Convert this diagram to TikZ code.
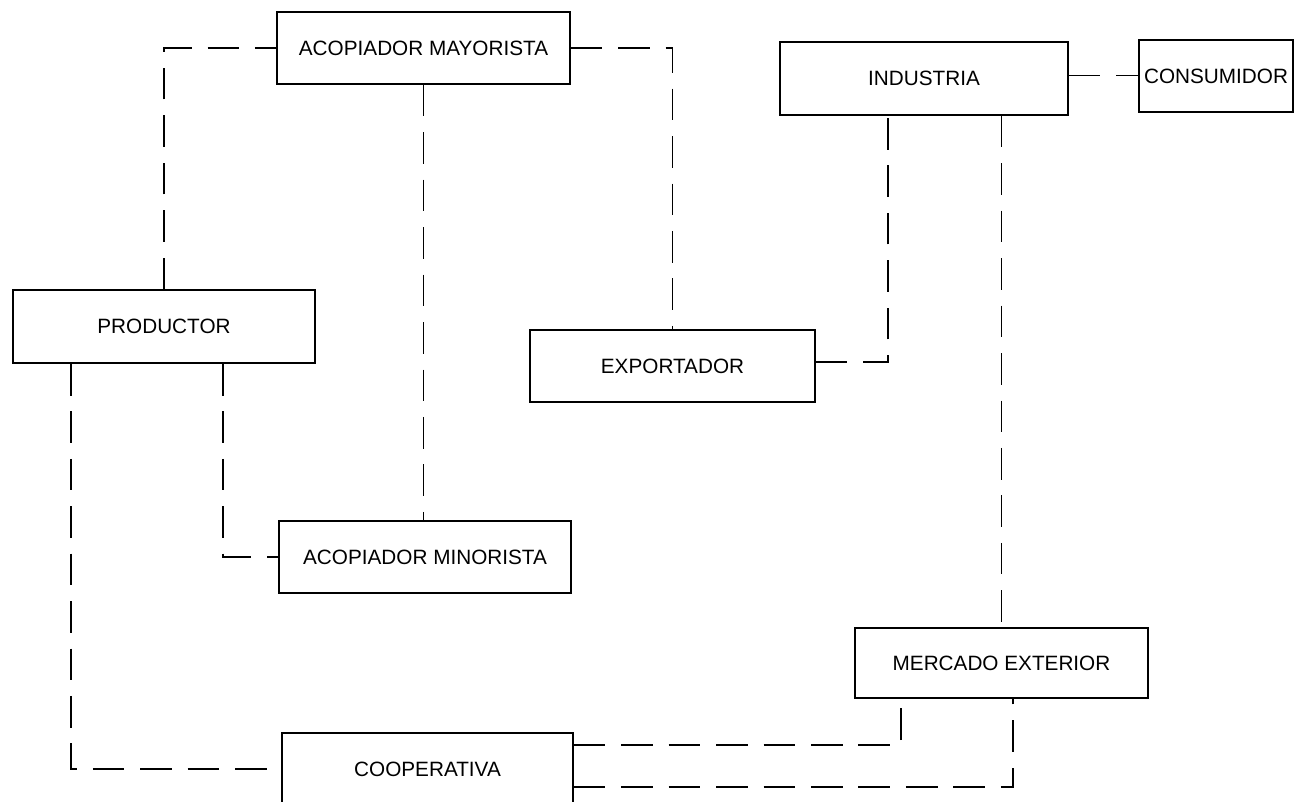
\documentclass[tikz,border=0pt]{standalone}
\usepackage{fontspec}
\setmainfont{Liberation Sans}
\usepackage{tikz}

\begin{document}
\begin{tikzpicture}[x=0.02cm, y=-0.02cm,
    caja/.style={draw, line width=1pt, font=\fontsize{11.8}{14}\selectfont,
      inner sep=0pt, minimum height=1.44cm},
    enlace/.style={line width=1pt, dash pattern=on 18pt off 9pt}]

  \useasboundingbox (0, 0) rectangle (1294, 801);

  \node[caja, minimum width=5.86cm] (mayorista) at (423.5, 48) {ACOPIADOR MAYORISTA};
  \node[caja, minimum width=5.76cm, minimum height=1.46cm] (industria) at (924, 78.5) {INDUSTRIA};
  \node[caja, minimum width=3.08cm] (consumidor) at (1216, 76) {CONSUMIDOR};
  \node[caja, minimum width=6.04cm, minimum height=1.46cm] (productor) at (164, 326.5) {PRODUCTOR};
  \node[caja, minimum width=5.70cm] (exportador) at (672.5, 366) {EXPORTADOR};
  \node[caja, minimum width=5.84cm] (minorista) at (425, 557) {ACOPIADOR MINORISTA};
  \node[caja, minimum width=5.86cm, minimum height=1.40cm] (mercado) at (1001.5, 663) {MERCADO EXTERIOR};
  \node[caja, minimum width=5.82cm] (cooperativa) at (427.5, 769) {COOPERATIVA};

  \draw[enlace] (productor.north) |- (mayorista.west);
  \draw[enlace] (mayorista.east) -| (exportador.north);
  \draw[enlace] (mayorista.south) -- (mayorista.south |- minorista.north);
  \draw[enlace] ([xshift=1.18cm]productor.south) |- (minorista.west);
  \draw[enlace] ([xshift=-1.86cm]productor.south) |- (cooperativa.west);
  \draw[enlace] ([yshift=0.08cm]exportador.east) -| ([xshift=-0.72cm]industria.south);
  \draw[enlace] (mercado.north |- industria.south) -- (mercado.north);
  \draw[enlace] ([yshift=0.06cm]industria.east) -- ([yshift=0.06cm]industria.east -| consumidor.west);
  \draw[enlace] ([yshift=0.48cm]cooperativa.east) -| ([xshift=-2.01cm]mercado.south);
  \draw[enlace] ([yshift=-0.36cm]cooperativa.east) -| ([xshift=0.23cm]mercado.south);

\end{tikzpicture}
\end{document}
